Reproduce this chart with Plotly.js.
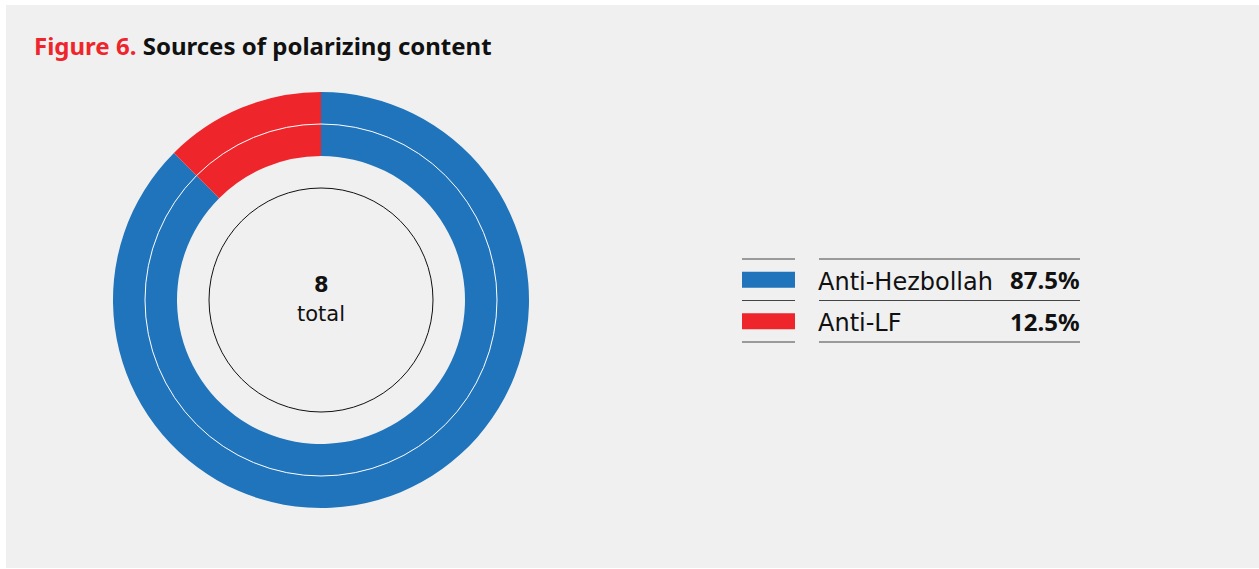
<!DOCTYPE html>
<html>
<head>
<meta charset="utf-8">
<script src="https://cdn.plot.ly/plotly-3.0.1.min.js"></script>
<style>
html,body{margin:0;padding:0;background:#ffffff;}
#chart{width:1259px;height:569px;}
</style>
</head>
<body>
<div id="chart"></div>
<script>
// ---- data ----
const categories = ['Anti-Hezbollah', 'Anti-LF'];
const counts = [7, 1];
const sliceColors = ['#1f74bb', '#ee262c'];
const titlePrefix = 'Figure 6.';
const titleText = 'Sources of polarizing content';
const totalLabel = 'total';

// ---- helpers ----
const W = 1259, H = 569;
const px = x => x / W;
const py = y => 1 - y / H;
const total = counts.reduce((a, b) => a + b, 0);
const pct = counts.map(v => (v / total * 100).toFixed(1) + '%');

const FONT = '"Noto Sans", Lato, sans-serif';
const LFONT = '"DejaVu Sans", "Noto Sans", sans-serif';

// pie geometry (pixels)
const cx = 321, cy = 300, R = 208, Rin = 144;

const trace = {
  type: 'pie',
  labels: categories,
  values: counts,
  sort: false,
  direction: 'clockwise',
  rotation: 0,
  hole: Rin / R,
  textinfo: 'none',
  hoverinfo: 'label+percent',
  marker: {colors: sliceColors, line: {width: 0}},
  domain: {x: [px(cx - R), px(cx + R)], y: [py(cy + R), py(cy - R)]},
  showlegend: false
};

const shapes = [
  // grey panel
  {type: 'rect', xref: 'paper', yref: 'paper', layer: 'below',
   x0: px(6), x1: px(1259), y0: py(568), y1: py(5),
   fillcolor: '#f0f0f0', line: {width: 0}},
  // thin white ring inside donut
  {type: 'circle', xref: 'paper', yref: 'paper',
   x0: px(cx - 176), x1: px(cx + 176), y0: py(cy + 176), y1: py(cy - 176),
   line: {color: '#ffffff', width: 1}},
  // thin black inner circle
  {type: 'circle', xref: 'paper', yref: 'paper',
   x0: px(cx - 112), x1: px(cx + 112), y0: py(cy + 112), y1: py(cy - 112),
   line: {color: '#111111', width: 1}}
];

const annotations = [
  {xref: 'paper', yref: 'paper', x: px(32), y: py(46), xanchor: 'left', yanchor: 'middle',
   showarrow: false,
   text: '<b><span style="color:#ee262c">' + titlePrefix + '</span> ' + titleText + '</b>',
   font: {family: FONT, size: 24, color: '#111111'}},
  {xref: 'paper', yref: 'paper', x: px(cx), y: py(285), xanchor: 'center', yanchor: 'middle',
   showarrow: false, text: '<b>' + total + '</b>',
   font: {family: LFONT, size: 21, color: '#111111'}},
  {xref: 'paper', yref: 'paper', x: px(cx), y: py(314), xanchor: 'center', yanchor: 'middle',
   showarrow: false, text: totalLabel,
   font: {family: LFONT, size: 21, color: '#111111'}}
];

// legend rows
const rowTop = 259, rowH = 41.5;
for (let i = 0; i <= categories.length; i++) {
  const y = rowTop + i * rowH;
  shapes.push({type: 'line', xref: 'paper', yref: 'paper', x0: px(742), x1: px(795), y0: py(y), y1: py(y),
               line: {color: '#444444', width: 1}});
  shapes.push({type: 'line', xref: 'paper', yref: 'paper', x0: px(819), x1: px(1080), y0: py(y), y1: py(y),
               line: {color: '#444444', width: 1}});
}
categories.forEach((c, i) => {
  const yc = rowTop + i * rowH + rowH / 2;
  shapes.push({type: 'rect', xref: 'paper', yref: 'paper', x0: px(742), x1: px(795),
               y0: py(yc + 8), y1: py(yc - 8), fillcolor: sliceColors[i], line: {width: 0}});
  annotations.push({xref: 'paper', yref: 'paper', x: px(816), y: py(yc + 2), xanchor: 'left', yanchor: 'middle',
                    showarrow: false, text: c, font: {family: LFONT, size: 24, color: '#111111'}});
  annotations.push({xref: 'paper', yref: 'paper', x: px(1082), y: py(yc), xanchor: 'right', yanchor: 'middle',
                    showarrow: false, text: '<b>' + pct[i] + '</b>', font: {family: FONT, size: 24, color: '#111111'}});
});

const layout = {
  width: W, height: H,
  margin: {l: 0, r: 0, t: 0, b: 0},
  paper_bgcolor: '#ffffff',
  plot_bgcolor: 'rgba(0,0,0,0)',
  shapes: shapes,
  annotations: annotations,
  showlegend: false
};

Plotly.newPlot('chart', [trace], layout, {displayModeBar: false, staticPlot: true});
</script>
</body>
</html>
